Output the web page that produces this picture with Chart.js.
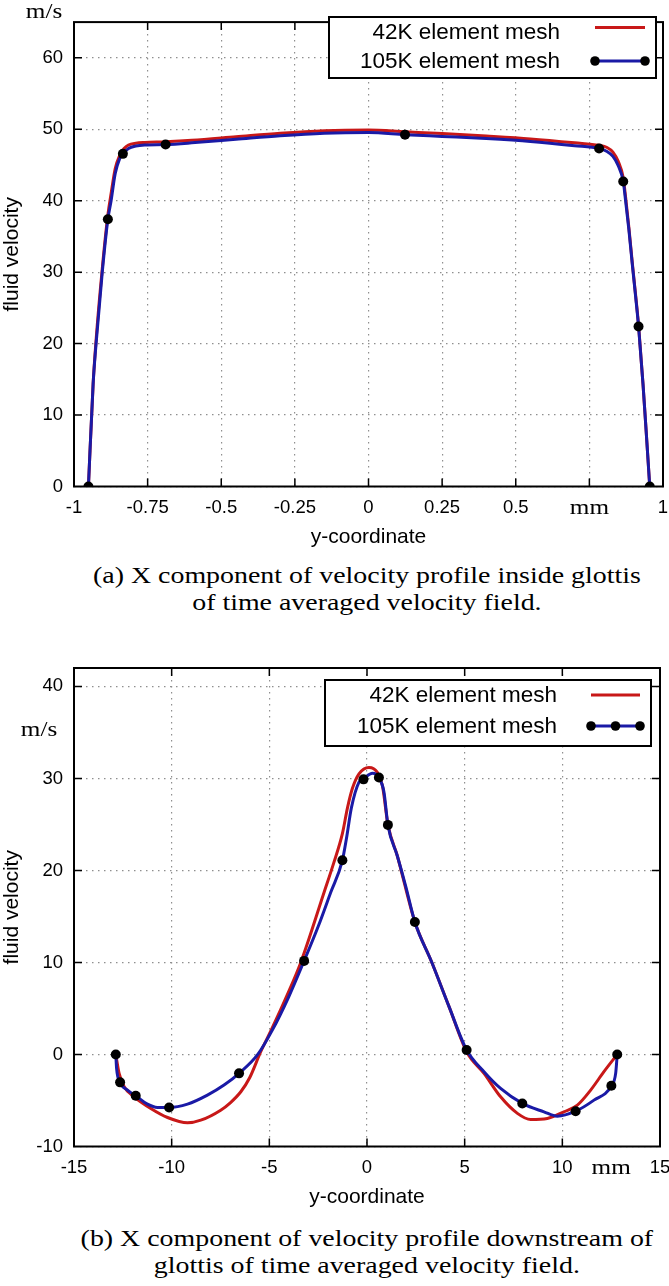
<!DOCTYPE html>
<html>
<head>
<meta charset="utf-8">
<script src="https://cdn.jsdelivr.net/npm/chart.js@4.4.1/dist/chart.umd.min.js"></script>
<style>
  html, body { margin: 0; padding: 0; background: #fff; }
  #page { position: relative; width: 669px; height: 1286px; overflow: hidden; background: #fff; }
  canvas { position: absolute; left: 0; }
  .caption { position: absolute; left: 0; width: 734px; text-align: center;
             font-family: "Liberation Serif", "Times New Roman", serif; font-size: 22.5px;
             line-height: 27px; color: #000; }
  .caption span { display: inline-block; transform: scaleX(1.24); white-space: nowrap; }
</style>
</head>
<body>
<div id="page">
  <canvas id="chart-a" width="669" height="560" style="top:0px"></canvas>
  <div class="caption" style="top:562px">
    <span>(a) X component of velocity profile inside glottis</span><br>
    <span>of time averaged velocity field.</span>
  </div>
  <canvas id="chart-b" width="669" height="610" style="top:610px"></canvas>
  <div class="caption" style="top:1225px">
    <span>(b) X component of velocity profile downstream of</span><br>
    <span>glottis of time averaged velocity field.</span>
  </div>
</div>

<script>
// ── (a) inside the glottis ─────────────────────────────
const aXTicks = [-1, -0.75, -0.5, -0.25, 0, 0.25, 0.5, 0.75, 1];
const aYTicks = [0, 10, 20, 30, 40, 50, 60];

const a42X  = [-0.951,-0.935,-0.925,-0.904,-0.885,-0.874,-0.86,-0.845,-0.83,-0.815,-0.79,-0.76,-0.689,-0.6,-0.45,-0.3,-0.15,0,0.124,0.25,0.4,0.55,0.7,0.783,0.81,0.83,0.848,0.865,0.873,0.884,0.896,0.907,0.917,0.932,0.944,0.955];
const a42Y  = [0,14.4,20.5,30.5,38,41,44.5,46.3,47.3,47.8,48.05,48.15,48.25,48.45,48.95,49.45,49.8,49.9,49.65,49.4,49.05,48.65,48.1,47.75,47.45,46.8,45.5,43.2,40.5,36.3,31.2,26.8,22.6,14.4,7,0];

const a105X = [-0.951,-0.935,-0.925,-0.904,-0.885,-0.874,-0.86,-0.845,-0.834,-0.815,-0.79,-0.76,-0.689,-0.6,-0.45,-0.3,-0.15,0,0.124,0.25,0.4,0.55,0.7,0.783,0.81,0.83,0.848,0.865,0.873,0.884,0.896,0.907,0.917,0.932,0.944,0.955];
const a105Y = [0,14.4,20,30,37.4,40,43.8,45.9,46.56,47.3,47.65,47.8,47.87,48.1,48.6,49.1,49.45,49.55,49.25,49.0,48.7,48.3,47.7,47.3,46.9,46.2,44.9,42.7,40,36,31,26.6,22.4,14.4,7,0];

const aMarkX = [-0.951,-0.885,-0.834,-0.689,0.124,0.783,0.865,0.917,0.955];
const aMarkY = [0,37.4,46.56,47.87,49.25,47.3,42.7,22.4,0];

// ── (b) downstream of the glottis ──────────────────────
const bXTicks = [-15, -10, -5, 0, 5, 10, 15];
const bYTicks = [-10, 0, 10, 20, 30, 40];

const b42X  = [-12.86,-12.69,-12.43,-11.92,-11.07,-10.21,-9.19,-8.51,-7.49,-7.0,-6.46,-6.0,-5.44,-4.9,-4.1,-3.39,-2.2,-1.69,-1.26,-1.0,-0.75,-0.41,0.1,0.53,0.79,1.07,1.55,2.45,3.3,4.2,5.1,5.99,6.84,7.7,8.38,9.23,10.08,10.77,11.45,12.13,12.81];
const b42Y  = [0,-2.05,-3.5,-4.6,-5.87,-6.85,-7.43,-7.14,-6.05,-5.25,-4.05,-2.5,0.3,2.67,6.4,10.0,17.6,20.9,24.0,26.8,28.9,30.5,31.2,30.66,29.2,25.0,21.6,14.4,10.1,5.2,0.3,-2.05,-4.6,-6.4,-7.07,-6.96,-6.23,-5.5,-3.87,-1.87,0];

const b105X = [-12.86,-12.82,-12.64,-12.26,-11.84,-11.24,-10.73,-10.13,-9.19,-8.17,-7.3,-6.55,-5.61,-4.84,-4.0,-3.22,-2.5,-1.86,-1.26,-1.05,-0.8,-0.41,-0.18,0.28,0.61,0.87,1.07,1.55,1.98,2.45,3.3,4.2,5.1,5.99,6.84,7.95,9.06,9.74,10.68,11.62,12.51,12.73,12.81];
const b105Y = [0,-1.5,-3.03,-3.87,-4.49,-5.4,-5.76,-5.76,-5.4,-4.42,-3.3,-2.05,-0.05,2.67,6.3,10.17,13.9,17.6,21.1,23.5,26.8,29.6,29.95,30.55,30.1,28.5,24.95,21.6,18.3,14.4,10.1,5.2,0.49,-1.87,-3.69,-5.32,-6.23,-6.7,-6.16,-4.96,-3.4,-2.05,0];

const bMarkX = [-12.86,-12.64,-11.84,-10.13,-6.55,-3.22,-1.26,-0.18,0.61,1.07,2.45,5.1,7.95,10.68,12.51,12.81];
const bMarkY = [0,-3.03,-4.49,-5.76,-2.05,10.17,21.1,29.9,30.1,24.95,14.4,0.49,-5.32,-6.16,-3.4,0];

// ── styles ─────────────────────────────────────────────
const SANS  = '"Liberation Sans", Arial, sans-serif';
const SERIF = '"Liberation Serif", "Times New Roman", serif';
const RED   = '#c81818';
const BLUE  = '#1a1aa6';
const GRID  = '#8f8f8f';
const TICK  = 8;

const pts = (xs, ys) => xs.map((x, i) => ({ x, y: ys[i] }));

function serifText(ctx, text, cx, baseline) {
  ctx.save();
  ctx.translate(cx, baseline);
  ctx.scale(1.2, 1);
  ctx.font = '21px ' + SERIF;
  ctx.fillStyle = '#000';
  ctx.textAlign = 'center';
  ctx.textBaseline = 'alphabetic';
  ctx.fillText(text, 0, 0);
  ctx.restore();
}

// gnuplot-like frame, inner tick marks, unit labels and boxed key
const decor = {
  id: 'decor',
  afterDraw(chart, args, o) {
    const { ctx, chartArea: a, scales: { x, y } } = chart;
    ctx.save();
    ctx.strokeStyle = '#000';
    ctx.lineWidth = 1.5;
    ctx.beginPath();
    o.xTicks.forEach(v => {
      if (v <= x.min || v >= x.max) return;
      const px = x.getPixelForValue(v);
      ctx.moveTo(px, a.bottom); ctx.lineTo(px, a.bottom - TICK);
      ctx.moveTo(px, a.top);    ctx.lineTo(px, a.top + TICK);
    });
    o.yTicks.forEach(v => {
      if (v <= y.min || v >= y.max) return;
      const py = y.getPixelForValue(v);
      ctx.moveTo(a.left, py);  ctx.lineTo(a.left + TICK, py);
      ctx.moveTo(a.right, py); ctx.lineTo(a.right - TICK, py);
    });
    ctx.stroke();
    ctx.lineWidth = 2;
    ctx.strokeRect(a.left, a.top, a.right - a.left, a.bottom - a.top);

    serifText(ctx, 'mm', x.getPixelForValue(o.unitX), a.bottom + 27.5);
    serifText(ctx, 'm/s', o.unitY.x, o.unitY.y);

    // key
    const k = o.key;
    ctx.fillStyle = '#fff';
    ctx.fillRect(k.x1, k.y1, k.x2 - k.x1, k.y2 - k.y1);
    ctx.lineWidth = 2;
    ctx.strokeStyle = '#000';
    ctx.strokeRect(k.x1, k.y1, k.x2 - k.x1, k.y2 - k.y1);
    ctx.font = '22.5px ' + SANS;
    ctx.textAlign = 'right';
    ctx.textBaseline = 'middle';
    k.rows.forEach(r => {
      const ds = chart.data.datasets[r.ds];
      ctx.fillStyle = '#000';
      ctx.fillText(ds.label, k.textRight, r.y);
      ctx.strokeStyle = ds.borderColor;
      ctx.lineWidth = 3;
      ctx.beginPath();
      ctx.moveTo(k.s1, r.lineY); ctx.lineTo(k.s2, r.lineY);
      ctx.stroke();
      ctx.fillStyle = '#000';
      for (let i = 0; i < r.dots; i++) {
        const dx = r.dots === 1 ? k.s1 : k.s1 + (k.s2 - k.s1) * i / (r.dots - 1);
        ctx.beginPath(); ctx.arc(dx, r.lineY, 4.8, 0, Math.PI * 2); ctx.fill();
      }
    });
    ctx.restore();
  }
};

function makeChart(id, d) {
  const ctx = document.getElementById(id).getContext('2d');
  return new Chart(ctx, {
    type: 'scatter',
    data: {
      datasets: [
        { label: '105K markers', data: pts(d.markX, d.markY), showLine: false,
          pointRadius: 5, pointBackgroundColor: '#000', pointBorderWidth: 0 },
        { label: '105K element mesh', data: pts(d.fineX, d.fineY), showLine: true,
          borderColor: BLUE, borderWidth: 3, pointRadius: 0, cubicInterpolationMode: 'monotone' },
        { label: '42K element mesh', data: pts(d.coarseX, d.coarseY), showLine: true,
          borderColor: RED, borderWidth: 3, pointRadius: 0, cubicInterpolationMode: 'monotone' },
      ],
    },
    options: {
      responsive: false, animation: false, events: [],
      layout: { padding: d.padding },
      plugins: {
        legend: { display: false }, tooltip: { enabled: false },
        decor: d.decor,
      },
      scales: {
        x: {
          type: 'linear', min: d.xMin, max: d.xMax,
          afterBuildTicks: s => { s.ticks = d.xTicks.map(v => ({ value: v })); },
          afterFit: s => { s.height = 73.5; s.paddingLeft = 0; s.paddingRight = 0; },
          ticks: { callback: v => (v === d.decor.unitX ? '' : String(v)), color: '#000',
                   font: { family: SANS, size: 18.5 }, padding: 10, maxRotation: 0, autoSkip: false },
          grid: { color: GRID, lineWidth: 1.2, drawTicks: false },
          border: { display: false, dash: [1.5, 4.5] },
          title: { display: true, text: 'y-coordinate', color: '#000',
                   font: { family: SANS, size: 21 }, padding: { top: 0, bottom: 10 } },
        },
        y: {
          type: 'linear', min: d.yMin, max: d.yMax,
          afterBuildTicks: s => { s.ticks = d.yTicks.map(v => ({ value: v })); },
          afterFit: s => { s.width = 74; },
          ticks: { color: '#000', font: { family: SANS, size: 18.5 }, padding: 11 },
          grid: { color: GRID, lineWidth: 1.2, drawTicks: false },
          border: { display: false, dash: [1.5, 4.5] },
          title: { display: true, text: 'fluid velocity', color: '#000',
                   font: { family: SANS, size: 21 }, padding: { top: 0, bottom: 0 } },
        },
      },
    },
    plugins: [decor],
  });
}

makeChart('chart-a', {
  coarseX: a42X, coarseY: a42Y, fineX: a105X, fineY: a105Y, markX: aMarkX, markY: aMarkY,
  xTicks: aXTicks, yTicks: aYTicks, xMin: -1, xMax: 1, yMin: 0, yMax: 65,
  padding: { top: 7, right: 6, left: 0, bottom: 0 },
  decor: {
    xTicks: aXTicks, yTicks: aYTicks, unitX: 0.75, unitY: { x: 44, y: 17.5 },
    key: { x1: 329, y1: 17, x2: 656, y2: 78, textRight: 560, s1: 595, s2: 645,
           rows: [ { ds: 2, y: 33, lineY: 27.5, dots: 0 }, { ds: 1, y: 61.5, lineY: 61, dots: 2 } ] },
  },
});

makeChart('chart-b', {
  coarseX: b42X, coarseY: b42Y, fineX: b105X, fineY: b105Y, markX: bMarkX, markY: bMarkY,
  xTicks: bXTicks, yTicks: bYTicks, xMin: -15, xMax: 15, yMin: -10, yMax: 42,
  padding: { top: 58, right: 9, left: 0, bottom: 0 },
  decor: {
    xTicks: bXTicks, yTicks: bYTicks, unitX: 12.5, unitY: { x: 39, y: 126 },
    key: { x1: 325, y1: 70, x2: 651, y2: 136, textRight: 557, s1: 591, s2: 640,
           rows: [ { ds: 2, y: 86, lineY: 85, dots: 0 }, { ds: 1, y: 116.5, lineY: 116, dots: 3 } ] },
  },
});
</script>
</body>
</html>
